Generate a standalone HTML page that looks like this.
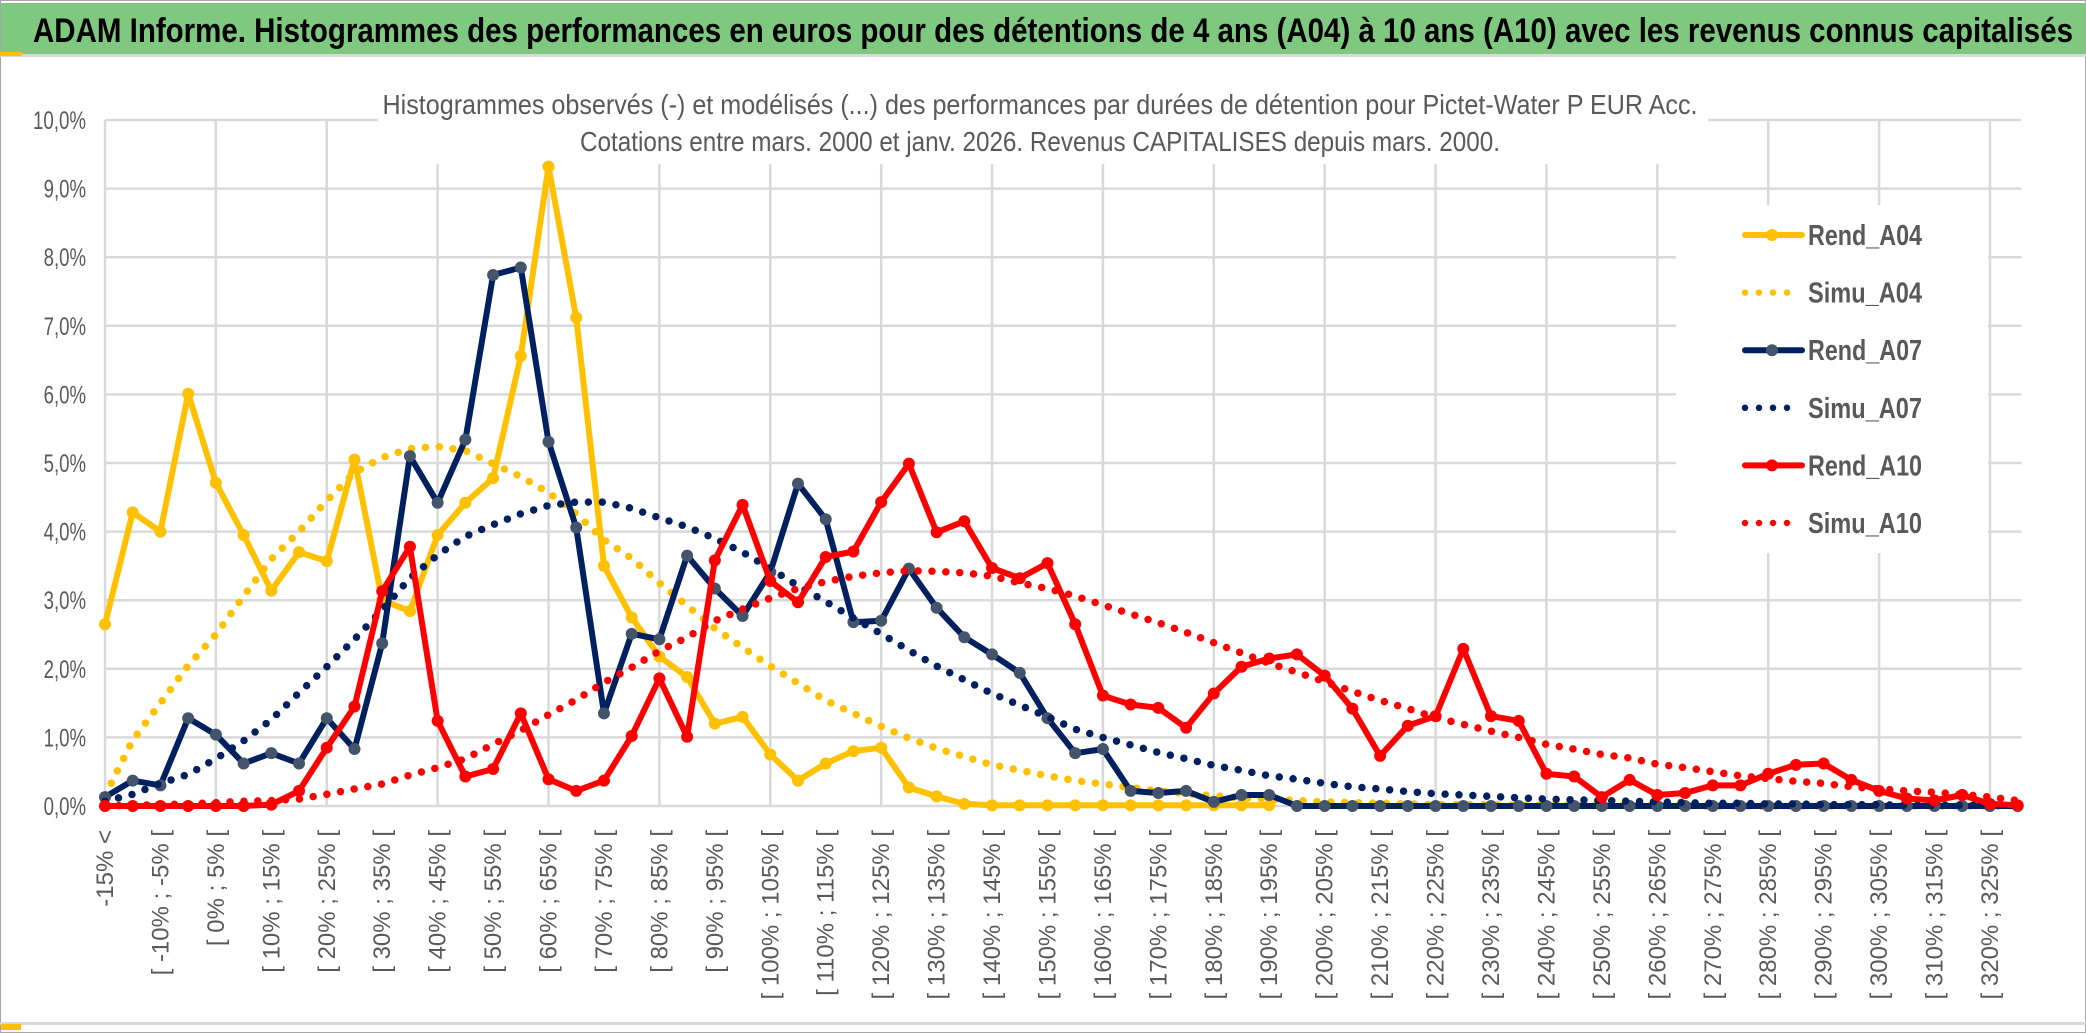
<!DOCTYPE html>
<html><head><meta charset="utf-8">
<style>
html,body{margin:0;padding:0;background:#fff;}
svg{display:block;}
text{font-family:"Liberation Sans Narrow","Liberation Sans",sans-serif;}
</style></head>
<body>
<svg id="chart" width="2086" height="1033" viewBox="0 0 2086 1033" xmlns="http://www.w3.org/2000/svg">
  <rect x="0" y="0" width="2086" height="1033" fill="#ffffff"/>
  <rect x="0.5" y="0.5" width="2085" height="1032" fill="none" stroke="#a6a6a6" stroke-width="1"/>
  <rect x="1" y="3" width="2084" height="51" fill="#7fc87f"/>
  <rect x="0" y="54" width="2086" height="3" fill="#d9d9d9"/>
  <rect x="0" y="52" width="22" height="4" fill="#ffc000"/>
  <text x="33" y="42" font-size="34" font-weight="bold" fill="#000" textLength="2040" lengthAdjust="spacingAndGlyphs">ADAM Informe. Histogrammes des performances en euros pour des détentions de 4 ans (A04) à 10 ans (A10) avec les revenus connus capitalisés</text>
  <g id="grid"></g>
  <g id="yaxis"></g>
  <g id="xaxis"></g>
  <rect x="378" y="78" width="1330" height="86" fill="#fff"/>
  <text x="1040" y="114" font-size="28" fill="#595959" text-anchor="middle" textLength="1315" lengthAdjust="spacingAndGlyphs">Histogrammes observés (-) et modélisés (...) des performances par durées de détention pour Pictet-Water P EUR Acc.</text>
  <text x="1040" y="151" font-size="28" fill="#595959" text-anchor="middle" textLength="920" lengthAdjust="spacingAndGlyphs">Cotations entre mars. 2000 et janv. 2026. Revenus CAPITALISES depuis mars. 2000.</text>
  <g id="series"></g>
  <g id="legend"></g>
  <rect x="0" y="1022" width="2086" height="3" fill="#d9d9d9"/>
  <rect x="1" y="1024" width="20" height="6" fill="#ffc000"/>
</svg>
<script>
const NS = "http://www.w3.org/2000/svg";
const rendA04 = [2.65,4.28,4.0,6.01,4.71,3.95,3.14,3.7,3.57,5.05,3.0,2.84,3.95,4.42,4.78,6.56,9.32,7.12,3.5,2.75,2.18,1.88,1.2,1.3,0.75,0.37,0.62,0.8,0.85,0.27,0.14,0.03,0.01,0.01,0.01,0.01,0.01,0.01,0.01,0.01,0.01,0.01,0.01,null,null,null,null,null,null,null,null,null,null,null,null,null,null,null,null,null,null,null,null,null,null,null,null,null,null,null];
const simuA04 = [0.15,0.96,1.5,2.05,2.5,3.06,3.6,4.0,4.45,4.86,5.08,5.21,5.24,5.18,4.99,4.8,4.57,4.26,3.88,3.61,3.25,2.92,2.59,2.31,2.04,1.79,1.54,1.35,1.16,0.99,0.84,0.72,0.6,0.52,0.44,0.37,0.32,0.27,0.22,0.18,0.15,0.12,0.10,0.08,0.06,0.05,0.04,0.03,0.02,0.02,0.02,0.01,0.01,0.01,0.01,0.01,0.01,0.01,0,0,0,0,0,0,0,0,0,0,0,0];
const rendA07 = [0.13,0.37,0.30,1.28,1.04,0.62,0.77,0.62,1.28,0.83,2.37,5.1,4.42,5.34,7.74,7.85,5.31,4.06,1.35,2.51,2.43,3.65,3.17,2.77,3.41,4.7,4.18,2.68,2.7,3.46,2.89,2.46,2.21,1.94,1.28,0.77,0.83,0.22,0.19,0.22,0.06,0.16,0.16,0,0,0,0,0,0,0,0,0,0,0,0,0,0,0,0,0,0,0,0,0,0,0,0,0,0,0];
const simuA07 = [0.07,0.17,0.33,0.46,0.69,0.95,1.26,1.65,2.03,2.43,2.86,3.32,3.66,3.93,4.1,4.26,4.38,4.43,4.43,4.34,4.2,4.07,3.9,3.7,3.46,3.21,2.98,2.74,2.51,2.27,2.04,1.84,1.64,1.47,1.3,1.12,1.0,0.89,0.78,0.69,0.59,0.52,0.44,0.39,0.33,0.28,0.25,0.21,0.18,0.16,0.14,0.12,0.1,0.09,0.08,0.07,0.06,0.05,0.04,0.04,0.03,0.03,0.02,0.02,0.02,0.01,0.01,0.01,0.01,0.01];
const rendA10 = [0,0,0,0,0,0,0.02,0.22,0.85,1.45,3.13,3.78,1.24,0.43,0.54,1.35,0.39,0.22,0.37,1.02,1.86,1.01,3.58,4.39,3.28,2.97,3.63,3.71,4.43,4.99,3.99,4.15,3.47,3.32,3.54,2.65,1.61,1.48,1.43,1.14,1.64,2.03,2.15,2.21,1.9,1.42,0.73,1.17,1.31,2.29,1.31,1.24,0.47,0.43,0.13,0.38,0.16,0.19,0.3,0.3,0.47,0.6,0.62,0.38,0.22,0.11,0.08,0.16,0.03,0.01];
const simuA10 = [0,0.01,0.02,0.03,0.05,0.07,0.08,0.1,0.17,0.25,0.32,0.45,0.56,0.69,0.9,1.1,1.33,1.55,1.8,2.02,2.26,2.46,2.7,2.87,3.03,3.17,3.27,3.35,3.4,3.43,3.42,3.4,3.35,3.25,3.17,3.06,2.93,2.8,2.67,2.53,2.38,2.23,2.08,1.95,1.81,1.67,1.54,1.42,1.29,1.19,1.09,1.0,0.9,0.83,0.75,0.7,0.61,0.56,0.5,0.44,0.4,0.36,0.33,0.28,0.25,0.22,0.2,0.17,0.13,0.08];
const yTicks = [0,1,2,3,4,5,6,7,8,9,10];
const yTickLabels = ["0,0%","1,0%","2,0%","3,0%","4,0%","5,0%","6,0%","7,0%","8,0%","9,0%","10,0%"];
const binStarts = [];
for (let b = -15; b <= 325; b += 5) binStarts.push(b);
const categories = ["-15% <"].concat(binStarts.map(b => "[ " + b + "% ; " + (b + 5) + "% ["));
const seriesNames = ["Rend_A04","Simu_A04","Rend_A07","Simu_A07","Rend_A10","Simu_A10"];

const X0 = 105, DX = 27.72, Y0 = 806, DY = 68.6;
function xPos(i){ return X0 + DX * i; }
function yPos(v){ return Y0 - DY * v; }
const plotRight = xPos(categories.length - 1) + 4;

function mk(tag, attrs, parent){
  const e = document.createElementNS(NS, tag);
  for (const k in attrs) e.setAttribute(k, attrs[k]);
  parent.appendChild(e);
  return e;
}

const grid = document.getElementById("grid");
yTicks.forEach(t => {
  const l = mk("line", {x1: X0, x2: plotRight, y1: yPos(t), y2: yPos(t), stroke: "#d9d9d9", "stroke-width": 2.5}, grid);
  
  
});
for (let i = 0; i < categories.length; i += 4) {
  const l = mk("line", {x1: xPos(i), x2: xPos(i), y1: yPos(10), y2: Y0, stroke: "#d9d9d9", "stroke-width": 2.5}, grid);
  
  
}

const yaxis = document.getElementById("yaxis");
yTicks.forEach((t, k) => {
  const lab = yTickLabels[k];
  const tx = mk("text", {x: 86, y: yPos(t) + 9, "font-size": 25, fill: "#595959", "text-anchor": "end", textLength: (lab.length * 10.6).toFixed(1), lengthAdjust: "spacingAndGlyphs"}, yaxis);
  tx.textContent = lab;
  
  
});

const xaxis = document.getElementById("xaxis");
categories.forEach((c, i) => {
  if (i % 2 !== 0) return;
  const x = xPos(i) + 8;
  const tx = mk("text", {x: x, y: 830, "font-size": 24, fill: "#595959", "text-anchor": "end", transform: "rotate(-90 " + x + " 830)", style: "font-family:'Liberation Sans',sans-serif"}, xaxis);
  tx.textContent = c;
  
  
});

const seriesG = document.getElementById("series");
function pathFor(vals){
  let d = "", started = false;
  vals.forEach((v, i) => {
    if (v === null) return;
    d += (started ? " L" : "M") + xPos(i).toFixed(1) + " " + yPos(v).toFixed(1);
    started = true;
  });
  return d;
}
function solid(vals, color, marker, name){
  const g = mk("g", {}, seriesG);
  
  
  const p = mk("path", {d: pathFor(vals), fill: "none", stroke: color, "stroke-width": 6, "stroke-linejoin": "round", "stroke-linecap": "round"}, g);
  
  
  vals.forEach((v, i) => {
    if (v === null) return;
    const c = mk("circle", {cx: xPos(i), cy: yPos(v), r: 6, fill: marker}, g);
    
    
  });
}
function dotted(vals, color, name){
  const p = mk("path", {d: pathFor(vals), fill: "none", stroke: color, "stroke-width": 7.5, "stroke-linecap": "round", "stroke-dasharray": "0 13.9"}, seriesG);
  
  
}
solid(rendA04, "#ffc000", "#ffc000", "rend-a04");
dotted(simuA04, "#ffc000", "simu-a04");
solid(rendA07, "#002060", "#44546a", "rend-a07");
dotted(simuA07, "#002060", "simu-a07");
solid(rendA10, "#ff0000", "#ff0000", "rend-a10");
dotted(simuA10, "#ff0000", "simu-a10");

const legend = document.getElementById("legend");
const lbg = mk("rect", {x: 1676, y: 205, width: 312, height: 348, fill: "#fff"}, legend);


const legColors = ["#ffc000","#ffc000","#002060","#002060","#ff0000","#ff0000"];
const legMarkers = ["#ffc000",null,"#44546a",null,"#ff0000",null];
seriesNames.forEach((n, k) => {
  const y = 235 + k * 57.6;
  const g = mk("g", {}, legend);
  
  
  if (legMarkers[k]) {
    const l = mk("line", {x1: 1745, x2: 1802, y1: y, y2: y, stroke: legColors[k], "stroke-width": 6, "stroke-linecap": "round"}, g);
    
    
    const c = mk("circle", {cx: 1772, cy: y, r: 6, fill: legMarkers[k]}, g);
    
    
  } else {
    const l = mk("line", {x1: 1745, x2: k === 5 ? 1800 : 1790, y1: y, y2: y, stroke: legColors[k], "stroke-width": 6.5, "stroke-linecap": "round", "stroke-dasharray": "0 14"}, g);
    
    
  }
  const t = mk("text", {x: 1808, y: y + 10, "font-size": 29, fill: "#595959", "font-weight": "bold", textLength: 114, lengthAdjust: "spacingAndGlyphs"}, g);
  t.textContent = n;
  
  
});
</script>
</body></html>
